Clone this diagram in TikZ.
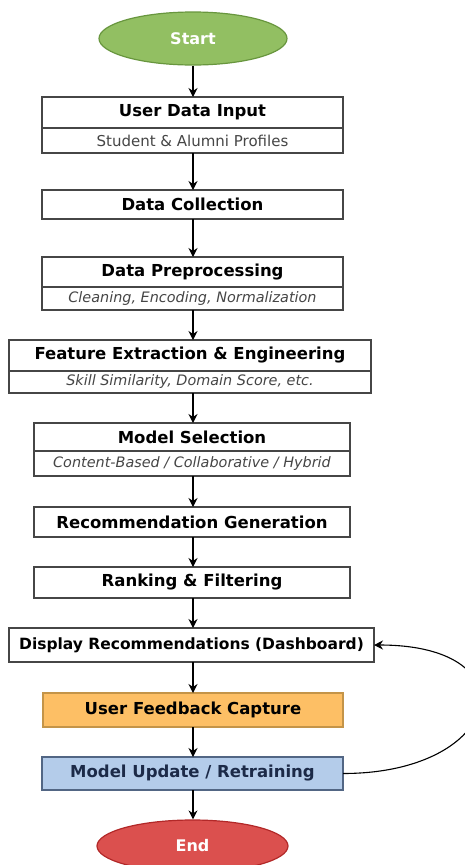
\documentclass[tikz,border=0pt]{standalone}
\usepackage{fontspec}
\setmainfont{DejaVu Sans}
\usetikzlibrary{shapes.geometric,arrows.meta}

\definecolor{boxline}{RGB}{70,70,70}
\definecolor{subtext}{RGB}{70,70,70}
\definecolor{startfill}{RGB}{146,191,98}
\definecolor{startedge}{RGB}{104,150,62}
\definecolor{endfill}{RGB}{219,80,78}
\definecolor{endedge}{RGB}{178,40,40}
\definecolor{feedfill}{RGB}{253,191,101}
\definecolor{feededge}{RGB}{196,148,72}
\definecolor{updfill}{RGB}{180,204,234}
\definecolor{updedge}{RGB}{82,102,132}
\definecolor{updtext}{RGB}{28,42,72}

\begin{document}
\begin{tikzpicture}[x=1pt,y=-1pt,
	box/.style={draw=boxline,line width=1.3pt,fill=white,inner sep=0pt,outer sep=0pt,
		minimum width=#1,font=\bfseries\fontsize{16.5}{19}\selectfont},
	sub/.style={box=#1,font=\fontsize{15}{18}\selectfont,text=subtext},
	note/.style={sub=#1,font=\itshape\fontsize{14.4}{17}\selectfont},
	oval/.style={ellipse,line width=1.2pt,inner sep=0pt,minimum width=188,
		minimum height=53,text=white,font=\bfseries\fontsize{16}{18}\selectfont},
	flow/.style={line width=1.3pt,-{Stealth[length=9pt,width=9pt]}}]
	\useasboundingbox (0,0) rectangle (465,865);
	% start / end
	\node[oval,fill=startfill,draw=startedge] (start) at (193,38.5) {Start};
	\node[oval,fill=endfill,draw=endedge,minimum width=191,minimum height=52] (end) at (192.5,846) {End};
	% stages
	\node[box=301,minimum height=31] (input) at (192.5,112.5) {User Data Input};
	\node[sub=301,minimum height=25,anchor=north] (input-sub) at (input.south) {Student \& Alumni Profiles};
	\node[box=301,minimum height=29] (collect) at (192.5,204.5) {Data Collection};
	\node[box=301,minimum height=30] (prep) at (192.5,272) {Data Preprocessing};
	\node[note=301,minimum height=23,anchor=north] (prep-sub) at (prep.south) {Cleaning, Encoding, Normalization};
	\node[box=362,minimum height=31] (feat) at (190,355.5) {Feature Extraction \& Engineering};
	\node[note=362,minimum height=22,anchor=north] (feat-sub) at (feat.south) {Skill Similarity, Domain Score, etc.};
	\node[box=316,minimum height=28] (model) at (192,437) {Model Selection};
	\node[note=316,minimum height=25,anchor=north] (model-sub) at (model.south) {Content-Based / Collaborative / Hybrid};
	\node[box=316,minimum height=30] (gen) at (192,522) {Recommendation Generation};
	\node[box=316,minimum height=31] (rank) at (192,582.5) {Ranking \& Filtering};
	\node[box=365,minimum height=34,font=\bfseries\fontsize{15.5}{18}\selectfont] (display) at (191.5,645) {Display Recommendations (Dashboard)};
	\node[box=300,minimum height=34,fill=feedfill,draw=feededge] (feedback) at (193,710) {User Feedback Capture};
	\node[box=301,minimum height=33,fill=updfill,draw=updedge,text=updtext] (update) at (192.5,773.5) {Model Update / Retraining};
	% arrows down the chain
	\foreach \a/\b in {start/input,input-sub/collect,collect/prep,prep-sub/feat,feat-sub/model,
		model-sub/gen,gen/rank,rank/display,display/feedback,feedback/update,update/end}
		\draw[flow] (193,0 |- \a.south) -- (193,0 |- \b.north);
	% feedback loop
	\draw[flow,line width=1.1pt] (update.east) .. controls +(160,0) and +(160,0) .. (display.east);
\end{tikzpicture}
\end{document}
